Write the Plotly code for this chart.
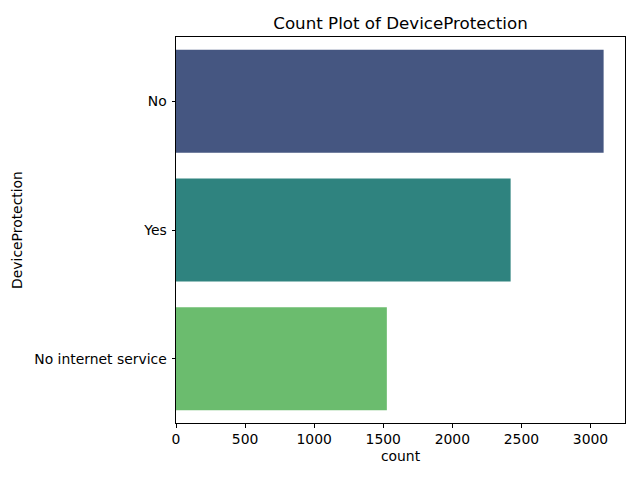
import plotly.graph_objects as go

categories = ["No", "Yes", "No internet service"]
counts = [3095, 2422, 1526]
colors = ["#455681", "#2f837f", "#6bbc6e"]
x_ticks = [0, 500, 1000, 1500, 2000, 2500, 3000]

fig = go.Figure()
fig.add_trace(go.Bar(
    x=counts, y=categories, orientation="h",
    marker=dict(color=colors, line=dict(width=0)),
    width=0.8,
))

font = dict(family="DejaVu Sans", size=13.9, color="black")
fig.update_layout(
    width=640, height=480,
    margin=dict(l=176, r=15, t=37, b=57),
    plot_bgcolor="white", paper_bgcolor="white",
    font=font,
    showlegend=False,
    title=dict(text="Count Plot of DeviceProtection", x=0.5, xref="paper",
               xanchor="center", y=1, yref="paper", yanchor="bottom",
               pad=dict(b=8), font=dict(family="DejaVu Sans", size=16.7, color="black")),
)
fig.update_xaxes(
    range=[0, max(counts) * 1.05], tickvals=x_ticks,
    showline=True, linecolor="black", linewidth=1, mirror=True,
    ticks="outside", ticklen=3.5, tickcolor="black", showgrid=False, zeroline=False,
    tickfont=font,
    title=dict(text="count", standoff=5, font=font),
)
fig.update_yaxes(
    categoryorder="array", categoryarray=categories,
    range=[2.5, -0.5],
    showline=True, linecolor="black", linewidth=1, mirror=True,
    ticks="outside", ticklen=3.5, tickcolor="black", showgrid=False,
    tickfont=font, ticklabelstandoff=2,
    title=dict(text="DeviceProtection", standoff=8, font=font),
)
fig.write_html("out.html")
